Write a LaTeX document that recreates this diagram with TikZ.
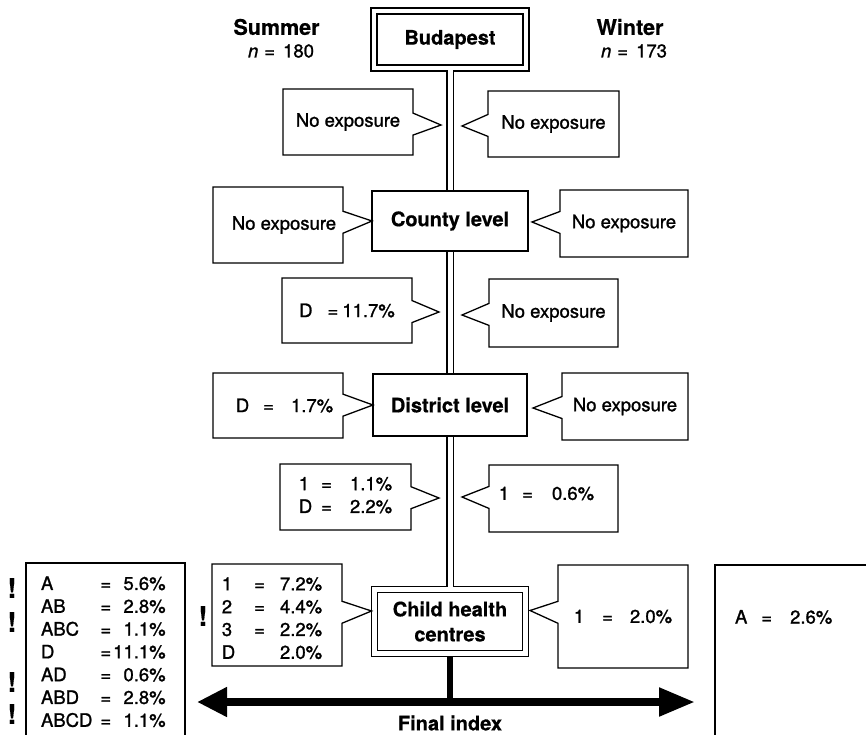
\documentclass[tikz,border=0pt]{standalone}
\usepackage{fontspec}
\setmainfont{TeX Gyre Heros}
\newfontfamily\regfam{TeX Gyre Heros}[FakeBold=1.2]
\newfontfamily\boldfam{TeX Gyre Heros Bold}[FakeBold=0.6]
\usetikzlibrary{shapes.callouts,arrows.meta,calc}
\newcommand\regf{\regfam\fontsize{18.5}{22.8}\selectfont}
\newcommand\boldf{\boldfam\fontsize{20}{25}\selectfont}
\newcommand\headf{\boldfam\fontsize{21.5}{25}\selectfont}
\newcommand\bangf{\boldfam\fontsize{27}{30}\selectfont}
\newcommand\shiftdown[2]{\raisebox{0pt}[\dimexpr\height+#1\relax][\depth]{#2}}
\newcommand\shiftup[2]{\raisebox{0pt}[\height][\dimexpr\depth+#1\relax]{#2}}
\begin{document}
\begin{tikzpicture}[x=1pt,y=-1pt,
  every node/.style={inner sep=0pt, outer sep=0pt},
  framebox/.style={draw, line width=1.5pt, double, double distance=4.5pt, fill=white, font=\boldf, align=center},
  levelbox/.style={draw, line width=2.2pt, fill=white, font=\boldf},
  callbox/.style={rectangle callout, draw, line width=1.3pt, fill=white, callout pointer width=22pt, font=\regf},
  pipe/.style={draw, line width=1.5pt, double, double distance=5pt},
  openbox/.style={line width=1.3pt},
  txt/.style={font=\regf},
  head/.style={font=\headf},
  bang/.style={font=\bangf},
  finarrow/.style={line width=8pt},
]
\useasboundingbox (0,0) rectangle (866,735);

% main level boxes
\node[framebox, minimum width=152pt, minimum height=57pt] (bud) at (450,39.5) {Budapest};
\node[levelbox, minimum width=156pt, minimum height=60pt] (county) at (450,221) {County level};
\node[levelbox, minimum width=154pt, minimum height=62pt] (district) at (450,405) {District level};
\node[framebox, minimum width=151pt, minimum height=64pt] (chc) at (450,621.5) {Child health\\centres};

% pipe
\draw[pipe, shorten >=1.1pt] ($(bud.south)+(0,2.25)$) -- (county.north);
\draw[pipe, shorten <=1.1pt, shorten >=1.1pt] (county.south) -- (district.north);
\draw[pipe, shorten <=1.1pt] (district.south) -- ($(chc.north)+(0,-2.25)$);

% headers
\node[head] (summer) at (276.5,27) {Summer};
\node[txt] (nsum) at (281,51) {\textit{n}\hspace{6pt}=\hspace{8pt}180};
\node[head] (winter) at (630,27) {Winter};
\node[txt] (nwin) at (634,51) {\textit{n}\hspace{6pt}=\hspace{8pt}173};

% pointer targets
\coordinate (p1l) at (441,125);
\coordinate (p1r) at (462,126);
\coordinate (p2r) at ($(county.east)+(4,1)$);
\coordinate (p3l) at (439,312);
\coordinate (p3r) at (462,315);
\coordinate (p4r) at ($(district.east)+(6,3)$);
\coordinate (p5l) at (439,498);
\coordinate (p5r) at (462,497);
\coordinate (p6l) at ($(chc.west)+(-3,-10.5)$);
\coordinate (p6r) at ($(chc.east)+(4.5,-11)$);

% row 1
\node[callbox, minimum width=130pt, minimum height=66pt, callout absolute pointer={(p1l)}] (s1) at (348,122) {No exposure};
\node[callbox, minimum width=131pt, minimum height=66pt, callout absolute pointer={(p1r)}] (w1) at (553.5,124) {No exposure};
% row 2
\node[callbox, minimum width=130pt, minimum height=76pt, callout absolute pointer={(county.west)}] (s2) at (278,225) {\hspace*{12pt}No exposure};
\node[callbox, minimum width=128pt, minimum height=67pt, callout absolute pointer={(p2r)}] (w2) at (624,223.5) {No exposure};
% row 3
\node[callbox, minimum width=130pt, minimum height=65pt, callout absolute pointer={(p3l)}] (s3) at (347,310.5) {D\hspace{15pt}=\hspace{4pt}11.7\%};
\node[callbox, minimum width=129pt, minimum height=68pt, callout absolute pointer={(p3r)}] (w3) at (553.5,313) {No exposure};
% row 4
\node[callbox, minimum width=130pt, minimum height=65pt, callout absolute pointer={(district.west)}] (s4) at (278,405.5) {\hspace*{13pt}D\hspace{14pt}=\hspace{17pt}1.7\%};
\node[callbox, minimum width=126pt, minimum height=67pt, callout absolute pointer={(p4r)}] (w4) at (625,406.5) {No exposure};
% row 5
\node[callbox, minimum width=131pt, minimum height=66pt, callout absolute pointer={(p5l)}] (s5) at (345.5,497)
  {\begin{tabular}{@{}l@{\hspace{9pt}}c@{\hspace{18pt}}r@{}}1 & = & 1.1\%\\ D & = & 2.2\%\end{tabular}};
\node[callbox, minimum width=129pt, minimum height=67pt, callout absolute pointer={(p5r)}] (w5) at (553.5,498.5)
  {\shiftup{10pt}{1\hspace{13pt}=\hspace{19pt}0.6\%\hspace*{14pt}}};
% row 6
\node[callbox, minimum width=130pt, minimum height=102pt, callout absolute pointer={(p6l)}] (s6) at (277,615)
  {\shiftdown{10pt}{\begin{tabular}{@{}l@{\hspace{19pt}}c@{\hspace{15pt}}r@{\hspace{10pt}}}1 & = & 7.2\%\\ 2 & = & 4.4\%\\ 3 & = & 2.2\%\\ D & & 2.0\%\end{tabular}}};
\node[callbox, minimum width=130pt, minimum height=103pt, callout absolute pointer={(p6r)}] (w6) at (623,616.5)
  {1\hspace{18pt}=\hspace{17pt}2.0\%};

% final index boxes
\node[minimum width=159pt, minimum height=190pt, anchor=north west] (finL) at (26,563) {};
\draw[openbox] (finL.south west) -- (finL.north west) -- (finL.north east) -- (finL.south east);
\node[txt, anchor=north west] (finLt) at (41,574)
  {\begin{tabular}{@{}l@{\hspace{8pt}}c@{\hspace{2pt}}r@{}}
   A & = & 5.6\%\\ AB & = & 2.8\%\\ ABC & = & 1.1\%\\ D & = & 11.1\%\\ AD & = & 0.6\%\\ ABD & = & 2.8\%\\ ABCD & = & 1.1\%
   \end{tabular}};
\node[minimum width=160pt, minimum height=190pt, anchor=north west] (finR) at (715,565) {};
\draw[openbox] (finR.south west) -- (finR.north west) -- (finR.north east);
\node[txt, anchor=west] (finRt) at (735,617) {A\hspace{14pt}=\hspace{18pt}2.6\%};

% exclamation marks
\node[bang] (b1) at (12,588) {!};
\node[bang] (b2) at (12,622) {!};
\node[bang] (b3) at (12,682) {!};
\node[bang] (b4) at (12,714) {!};
\node[bang] (b5) at (203,616) {!};

% final index arrow
\coordinate (al) at (197,702);
\coordinate (ar) at (695,702);
\draw[finarrow, {Triangle[length=30pt,width=28pt]}-{Triangle[length=36pt,width=27pt]}] (al) -- (ar);
\draw[line width=5.5pt] ($(chc.south)+(0,3)$) -- (chc.south |- al);
\node[font=\boldf] (final) at (450,723) {Final index};
\end{tikzpicture}
\end{document}
